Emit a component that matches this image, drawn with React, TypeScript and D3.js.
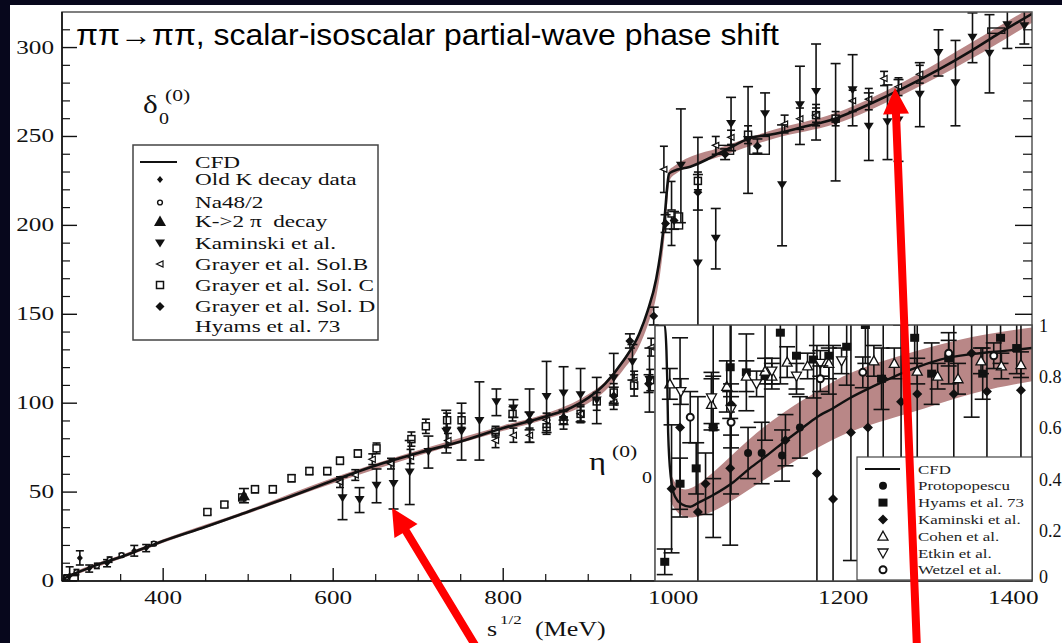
import React from 'react';
import * as d3 from 'd3';

const W = 1062;
const H = 643;

// CFD parametrisation of the scalar-isoscalar phase shift δ0(0) (degrees)
const cfdEnergy = [280, 290, 300, 325, 350, 375, 400, 450, 500, 550, 600, 650, 700, 750, 800, 850, 880, 900, 920, 940, 960, 970, 980, 986, 990, 993, 995, 1000, 1020, 1060, 1090, 1120, 1150, 1190, 1230, 1270, 1310, 1350, 1380, 1422];
const cfdPhase = [0.5, 3, 5, 9.5, 13.5, 18, 22.5, 30.5, 39, 47.5, 56.5, 65, 72, 78.5, 86, 92.5, 97.5, 103, 111, 123, 139, 152, 170, 188, 205, 222, 229, 230.5, 233, 242, 249, 251.5, 255, 260, 268, 277, 287, 298, 307, 319];

// uncertainty band of the phase shift
const bandEnergy = [280, 300, 350, 400, 500, 600, 700, 800, 850, 900, 920, 940, 960, 970, 980, 986, 990, 993, 995, 1000, 1060, 1120, 1190, 1270, 1350, 1422];
const bandLow = [0, 4, 12.5, 21.5, 38, 55, 70.5, 84.5, 91, 100, 107, 118, 132, 144, 160, 178, 195, 213, 224, 228, 239.5, 249, 257, 273.5, 293.5, 314];
const bandHigh = [1, 6, 14.5, 23.5, 40, 58, 73.5, 87.5, 94, 105, 112, 124, 140, 153, 171, 189, 206, 224, 231, 233, 244.5, 254, 263, 280.5, 302.5, 323];

// inelasticity η0(0) from CFD
const etaEnergy = [978.5, 990, 992, 993, 994, 997, 1002, 1010, 1020, 1029, 1047, 1071, 1090, 1110, 1129, 1149, 1169, 1188, 1208, 1235, 1275, 1314, 1353, 1393, 1422];
const etaValue = [1, 1, 0.9, 0.78, 0.58, 0.41, 0.33, 0.3, 0.29, 0.305, 0.336, 0.387, 0.44, 0.49, 0.54, 0.59, 0.64, 0.675, 0.715, 0.76, 0.82, 0.865, 0.887, 0.9, 0.91];
const etaBandEnergy = [997, 1005, 1020, 1050, 1090, 1129, 1169, 1208, 1275, 1353, 1422];
const etaBandLow = [0.31, 0.26, 0.24, 0.27, 0.36, 0.44, 0.52, 0.59, 0.65, 0.74, 0.78];
const etaBandHigh = [0.42, 0.36, 0.35, 0.43, 0.56, 0.66, 0.74, 0.82, 0.89, 0.96, 0.99];

// phase-shift data: [energy MeV, δ deg, error]
const oldKDecay = [[290, 3, 5], [302, 13, 4], [313, 7, 2], [334, 10, 2], [366, 17, 3], [380, 18.5, 2]];
const na48 = [[286, 2, 1.5], [298, 5, 1.5], [322, 8.5, 1.5], [337, 12, 1.5], [351, 14.5, 1], [389, 21, 1]];
const k2piDecay = [[495, 48, 4]];
const kaminski = [
  [611, 46.5, 12], [631, 45.5, 7], [651, 53.5, 9.5], [671, 54.5, 14], [690, 61, 18], [712, 72.5, 9], [733, 84, 12], [751, 84, 16],
  [772, 90, 22], [792, 100.5, 7.5], [812, 97, 5], [831, 93, 15], [851, 103.5, 20], [871, 105.5, 15], [891, 104.5, 15], [910, 101.5, 13],
  [930, 114, 14], [952, 123, 10], [972, 113, 18], [1009, 233.5, 32], [1029, 178.5, 71], [1050, 192.5, 17], [1068, 257, 15], [1088, 248, 30],
  [1108, 262.5, 12], [1128, 222.5, 34], [1149, 267.5, 22], [1168, 275, 27], [1191, 258, 33], [1211, 276, 20], [1230, 255.5, 19],
  [1252, 258, 21], [1265, 259, 23], [1290, 273.5, 18], [1312, 297, 13], [1332, 280, 24], [1352, 305.5, 14], [1372, 296.5, 22],
  [1393, 312.5, 13], [1413, 312, 10],
];
const grayerB = [
  [608, 55.6, 3], [626, 59.6, 3], [646, 68.5, 3], [668, 66, 3], [691, 70, 4], [735, 79, 4], [791, 79, 4], [812, 82, 4], [831, 82, 4],
  [851, 90.4, 4], [891, 94, 4], [930, 100.5, 4], [954, 113, 5], [974, 131.5, 5], [989, 231.5, 13], [1050, 245, 5], [1068, 249.5, 4],
  [1131, 257, 5], [1149, 260, 6], [1168, 262, 6], [1211, 270, 6], [1230, 271, 6], [1248, 282.6, 4], [1265, 278, 5], [1290, 285, 5],
];
const grayerC = [
  [452, 38.8, 1.5], [472, 43, 1.5], [493, 47, 1.5], [508, 51.6, 2], [529, 51.6, 2], [551, 57.8, 2], [572, 61.8, 2], [593, 61.8, 2],
  [608, 67.6, 2], [629, 71.7, 2], [651, 74.6, 3], [692, 79.8, 4], [709, 87, 4], [734, 90.4, 4], [751, 90.4, 4], [791, 84, 3],
  [811, 94, 4], [851, 86.5, 4], [871, 90.4, 5], [891, 94, 5], [910, 101, 5], [930, 106, 5], [954, 110, 6], [973, 113, 6],
  [998, 206.7, 18], [1029, 225, 5], [1088, 251, 5], [1168, 262, 4], [1191, 260, 4],
];
const grayerD = [
  [831, 90, 5], [871, 92, 4], [930, 104, 5], [949, 135, 4], [971, 111, 5], [977, 149, 5], [991, 201, 5], [1001, 202.8, 5],
  [1029, 218.6, 10], [1061, 240, 3], [1099, 244.6, 4],
];
// Hyams et al. 73: [E from, E to, δ from, δ to]
const hyams73 = [[283, 300, 0, 3], [990, 1011, 198, 207], [1050, 1071, 240, 245], [1090, 1113, 240, 250], [1370, 1390, 308, 311]];

// inelasticity data: [energy MeV, η, error]
const etaProtopopescu = [[1088, 0.5, 0.1], [1104, 0.5, 0.12], [1128, 0.49, 0.1], [1149, 0.6, 0.12]];
const etaHyams = [
  [990, 0.075, 0.05], [1008, 0.38, 0.1], [1027, 0.44, 0.1], [1047, 0.6, 0.2], [1067, 0.835, 0.2], [1086, 0.815, 0.15], [1108, 0.8, 0.25],
  [1126, 0.97, 0.2], [1145, 0.88, 0.15], [1165, 0.865, 0.15], [1183, 0.88, 0.15], [1204, 0.915, 0.15], [1226, 1.0, 0.15],
  [1245, 0.79, 0.12], [1284, 0.95, 0.1], [1304, 0.81, 0.12], [1324, 0.87, 0.1], [1364, 0.81, 0.1], [1385, 0.95, 0.1], [1404, 0.91, 0.1],
];
const etaKaminski = [
  [998, 0.36, 0.25], [1008, 0.6, 0.35], [1029, 0.27, 0.45], [1038, 0.38, 0.12], [1047, 0.6, 0.43], [1067, 0.44, 0.3], [1068, 0.69, 0.35],
  [1132, 0.55, 0.1], [1169, 0.42, 0.5], [1188, 0.32, 0.6], [1209, 0.58, 0.5], [1229, 0.6, 0.45], [1247, 0.79, 0.35], [1268, 0.7, 0.3],
  [1287, 0.73, 0.6], [1330, 0.73, 0.3], [1351, 0.89, 0.25], [1369, 0.74, 0.5], [1409, 0.745, 0.6],
];
const etaCohen = [
  [996, 0.77, 0.06], [1045, 0.69, 0.1], [1063, 0.76, 0.1], [1086, 0.8, 0.06], [1108, 0.82, 0.05], [1116, 0.8, 0.05], [1134, 0.855, 0.06],
  [1158, 0.84, 0.05], [1183, 0.85, 0.06], [1236, 0.86, 0.06], [1260, 0.85, 0.06], [1287, 0.82, 0.05], [1311, 0.8, 0.05],
  [1335, 0.79, 0.06], [1362, 0.86, 0.05], [1386, 0.84, 0.05], [1409, 0.845, 0.05],
];
const etaEtkin = [[1009, 0.74, 0.05], [1045, 0.715, 0.1], [1068, 0.67, 0.1], [1098, 0.77, 0.05], [1116, 0.82, 0.05], [1145, 0.8, 0.05], [1173, 0.85, 0.05], [1198, 0.86, 0.05]];
const etaWetzel = [[1020, 0.64, 0.1], [1068, 0.62, 0.1], [1173, 0.79, 0.05], [1223, 0.815, 0.06], [1324, 0.89, 0.05], [1377, 0.88, 0.05]];

// axis ticks
const xMajorTicks = [400, 600, 800, 1000, 1200, 1400];
const xMinorTicks = [300, 350, 450, 500, 550, 650, 700, 750, 850, 900, 950, 1050, 1100, 1150, 1250, 1300, 1350];
const yMajorTicks = [0, 50, 100, 150, 200, 250, 300];
const yMinorTicks = d3.range(10, 320, 10).filter((v) => v % 50 !== 0);
const etaTickLabels = ['0', '0.2', '0.4', '0.6', '0.8', '1'];
const etaTicks = [0, 0.2, 0.4, 0.6, 0.8, 1];

const mainLegend = [
  { label: 'CFD', kind: 'line' },
  { label: 'Old K decay data', kind: 'oldK' },
  { label: 'Na48/2', kind: 'na48' },
  { label: 'K->2\u00a0\u03c0\u00a0\u00a0decay', kind: 'k2pi' },
  { label: 'Kaminski et al.', kind: 'kam' },
  { label: 'Grayer et al. Sol.B', kind: 'solB' },
  { label: 'Grayer et al. Sol. C', kind: 'solC' },
  { label: 'Grayer et al. Sol. D', kind: 'solD' },
  { label: 'Hyams et al. 73', kind: 'none' },
];
const insetLegend = [
  { label: 'CFD', kind: 'line' },
  { label: 'Protopopescu', kind: 'proto' },
  { label: 'Hyams et al. 73', kind: 'hyams' },
  { label: 'Kaminski et al.', kind: 'kamI' },
  { label: 'Cohen et al.', kind: 'cohen' },
  { label: 'Etkin et al.', kind: 'etkin' },
  { label: 'Wetzel et al.', kind: 'wetzel' },
];

const SERIF = '"Liberation Serif", "Times New Roman", serif';
const SANS = '"Liberation Sans", Arial, sans-serif';
const INK = '#111';
const BAND = '#b98787';

// layout of the frames
const plotL = 62, plotR = 1032, plotT = 12, plotB = 581;
const insetT = 325;
const insetEStart = 978.5;

const x = d3.scaleLinear().domain([281, 1422]).range([plotL, plotR]);
const y = d3.scaleLinear().domain([0, 320]).range([plotB, plotT]);
const yi = d3.scaleLinear().domain([0, 1]).range([plotB, insetT]);

function SText({ x: tx, y: ty, size, sx = 1.4, anchor = 'start', children, fill = INK, family = SERIF }: any) {
  return (
    <text transform={`translate(${tx},${ty}) scale(${sx},1)`} fontSize={size} fontFamily={family} textAnchor={anchor} fill={fill}>
      {children}
    </text>
  );
}

function Marker({ kind, cx, cy }: { kind: string; cx: number; cy: number }) {
  switch (kind) {
    case 'oldK':
      return <path d={`M${cx},${cy - 3.5}L${cx + 3},${cy}L${cx},${cy + 3.5}L${cx - 3},${cy}Z`} fill={INK} />;
    case 'na48':
      return <circle cx={cx} cy={cy} r={2.4} fill="#fff" stroke={INK} strokeWidth={1.4} />;
    case 'k2pi':
      return <path d={`M${cx},${cy - 6}L${cx + 6},${cy + 4.5}L${cx - 6},${cy + 4.5}Z`} fill={INK} />;
    case 'kam':
      return <path d={`M${cx - 5},${cy - 4}L${cx + 5},${cy - 4}L${cx},${cy + 4}Z`} fill={INK} />;
    case 'solB':
      return <path d={`M${cx - 3.5},${cy}L${cx + 3},${cy - 3}L${cx + 3},${cy + 3}Z`} fill="#fff" stroke={INK} strokeWidth={1.2} />;
    case 'solC':
      return <rect x={cx - 3.5} y={cy - 3.5} width={7} height={7} fill="#fff" stroke={INK} strokeWidth={1.5} />;
    case 'solD':
      return <path d={`M${cx},${cy - 4.5}L${cx + 4.5},${cy}L${cx},${cy + 4.5}L${cx - 4.5},${cy}Z`} fill={INK} />;
    case 'proto':
      return <circle cx={cx} cy={cy} r={4} fill={INK} />;
    case 'hyams':
      return <rect x={cx - 4.5} y={cy - 4} width={9} height={8} fill={INK} />;
    case 'kamI':
      return <path d={`M${cx},${cy - 5}L${cx + 5},${cy}L${cx},${cy + 5}L${cx - 5},${cy}Z`} fill={INK} />;
    case 'cohen':
      return <path d={`M${cx},${cy - 5}L${cx + 5},${cy + 4}L${cx - 5},${cy + 4}Z`} fill="#fff" stroke={INK} strokeWidth={1.3} />;
    case 'etkin':
      return <path d={`M${cx - 5},${cy - 4}L${cx + 5},${cy - 4}L${cx},${cy + 5}Z`} fill="#fff" stroke={INK} strokeWidth={1.3} />;
    case 'wetzel':
      return <circle cx={cx} cy={cy} r={3.5} fill="#fff" stroke={INK} strokeWidth={2} />;
    default:
      return null;
  }
}

function Series({ data, kind, ys, cap }: { data: number[][]; kind: string; ys: (v: number) => number; cap: number }) {
  return (
    <g>
      {data.map(([e, v, err], i) => {
        const cx = x(e);
        const y0 = ys(v - err);
        const y1 = ys(v + err);
        return (
          <g key={i}>
            <line x1={cx} x2={cx} y1={y0} y2={y1} stroke={INK} strokeWidth={1.6} />
            <line x1={cx - cap / 2} x2={cx + cap / 2} y1={y0} y2={y0} stroke={INK} strokeWidth={1.6} />
            <line x1={cx - cap / 2} x2={cx + cap / 2} y1={y1} y2={y1} stroke={INK} strokeWidth={1.6} />
            <Marker kind={kind} cx={cx} cy={ys(v)} />
          </g>
        );
      })}
    </g>
  );
}

function arrowPoints(tipX: number, tipY: number, tailX: number, tailY: number, shaftW: number, headL: number, headW: number) {
  const dx = tailX - tipX;
  const dy = tailY - tipY;
  const len = Math.hypot(dx, dy);
  const ux = dx / len, uy = dy / len;
  const nx = -uy, ny = ux;
  const bx = tipX + ux * headL, by = tipY + uy * headL;
  const pts = [
    [tipX, tipY],
    [bx + (nx * headW) / 2, by + (ny * headW) / 2],
    [bx + (nx * shaftW) / 2, by + (ny * shaftW) / 2],
    [tailX + (nx * shaftW) / 2, tailY + (ny * shaftW) / 2],
    [tailX - (nx * shaftW) / 2, tailY - (ny * shaftW) / 2],
    [bx - (nx * shaftW) / 2, by - (ny * shaftW) / 2],
    [bx - (nx * headW) / 2, by - (ny * headW) / 2],
  ];
  return pts.map((p) => p.join(',')).join(' ');
}

export default function App() {
  const cfdPts = cfdEnergy.map((e, i) => [e, cfdPhase[i]] as [number, number]);
  const line = d3.line<[number, number]>().x((d) => x(d[0])).y((d) => y(d[1])).curve(d3.curveMonotoneX);
  const band = d3
    .area<number>()
    .x((_, i) => x(bandEnergy[i]))
    .y0((_, i) => y(bandLow[i]))
    .y1((_, i) => y(bandHigh[i]))
    .curve(d3.curveMonotoneX);

  const etaPts = etaEnergy.map((e, i) => [e, etaValue[i]] as [number, number]);
  const etaLine = d3.line<[number, number]>().x((d) => x(d[0])).y((d) => yi(d[1])).curve(d3.curveMonotoneX);
  const etaBand = d3
    .area<number>()
    .x((_, i) => x(etaBandEnergy[i]))
    .y0((_, i) => yi(etaBandLow[i]))
    .y1((_, i) => yi(etaBandHigh[i]))
    .curve(d3.curveBasis);

  const insetL = x(insetEStart);
  const legRows = [162, 179.5, 202.5, 221.5, 243.5, 264, 285, 306.5, 326.5];

  return (
    <svg width={W} height={H} style={{ position: 'absolute', left: 0, top: 0, display: 'block' }}>
      <defs>
        <clipPath id="mainClip">
          <rect x={plotL} y={plotT} width={plotR - plotL} height={plotB - plotT} />
        </clipPath>
        <clipPath id="insetClip">
          <rect x={insetL} y={insetT} width={plotR - insetL} height={plotB - insetT} />
        </clipPath>
      </defs>
      <rect x={0} y={0} width={W} height={H} fill="#fff" />

      {/* phase-shift panel */}
      <g clipPath="url(#mainClip)">
        <path d={band(bandEnergy) || ''} fill={BAND} />
        {hyams73.map(([e0, e1, d0, d1], i) => (
          <rect key={i} x={x(e0)} y={y(d1)} width={x(e1) - x(e0)} height={y(d0) - y(d1)} fill="none" stroke={INK} strokeWidth={1.4} />
        ))}
        <Series data={grayerC} kind="solC" ys={y} cap={8} />
        <Series data={grayerB} kind="solB" ys={y} cap={8} />
        <Series data={kaminski} kind="kam" ys={y} cap={10} />
        <Series data={grayerD} kind="solD" ys={y} cap={10} />
        <Series data={oldKDecay} kind="oldK" ys={y} cap={8} />
        <Series data={na48} kind="na48" ys={y} cap={6} />
        <Series data={k2piDecay} kind="k2pi" ys={y} cap={10} />
        <path d={line(cfdPts) || ''} fill="none" stroke={INK} strokeWidth={2.6} />
      </g>

      {/* axis frame and ticks */}
      <rect x={plotL} y={plotT} width={plotR - plotL} height={plotB - plotT} fill="none" stroke="#555" strokeWidth={1.5} />
      <line x1={plotL} x2={plotL} y1={plotT} y2={plotB} stroke={INK} strokeWidth={1.6} />
      <line x1={plotL} x2={plotR} y1={plotB} y2={plotB} stroke={INK} strokeWidth={1.6} />
      {yMajorTicks.map((v) => (
        <g key={`ym${v}`}>
          <line x1={plotL} x2={plotL + 15} y1={y(v)} y2={y(v)} stroke={INK} strokeWidth={1.4} />
          <line x1={plotR} x2={plotR - 17} y1={y(v)} y2={y(v)} stroke={INK} strokeWidth={1.4} />
          <SText x={54} y={y(v) + 6} size={18} anchor="end">
            {v}
          </SText>
        </g>
      ))}
      {yMinorTicks.map((v) => (
        <g key={`yn${v}`}>
          <line x1={plotL} x2={plotL + 8} y1={y(v)} y2={y(v)} stroke={INK} strokeWidth={1.2} />
          <line x1={plotR} x2={plotR - 9} y1={y(v)} y2={y(v)} stroke={INK} strokeWidth={1.2} />
        </g>
      ))}
      {xMajorTicks.map((v) => (
        <g key={`xm${v}`}>
          <line x1={x(v)} x2={x(v)} y1={plotB} y2={plotB - 13} stroke={INK} strokeWidth={1.4} />
          <SText x={x(v)} y={604} size={18} anchor="middle">
            {v}
          </SText>
        </g>
      ))}
      {xMinorTicks.map((v) => (
        <line key={`xn${v}`} x1={x(v)} x2={x(v)} y1={plotB} y2={plotB - 7} stroke={INK} strokeWidth={1.2} />
      ))}

      {/* inelasticity inset */}
      <rect x={insetL} y={insetT} width={plotR - insetL} height={plotB - insetT} fill="#fff" />
      <g clipPath="url(#insetClip)">
        <path d={etaBand(etaBandEnergy) || ''} fill={BAND} />
        <Series data={etaKaminski} kind="kamI" ys={yi} cap={16} />
        <Series data={etaHyams} kind="hyams" ys={yi} cap={16} />
        <Series data={etaProtopopescu} kind="proto" ys={yi} cap={16} />
        <Series data={etaCohen} kind="cohen" ys={yi} cap={16} />
        <Series data={etaEtkin} kind="etkin" ys={yi} cap={16} />
        <Series data={etaWetzel} kind="wetzel" ys={yi} cap={16} />
        <path d={etaLine(etaPts) || ''} fill="none" stroke={INK} strokeWidth={2.4} />
      </g>
      <rect x={insetL} y={insetT} width={plotR - insetL} height={plotB - insetT} fill="none" stroke="#444" strokeWidth={1.5} />
      {etaTicks.map((v, i) => (
        <SText key={`et${v}`} x={1039} y={yi(v) + (v === 0 ? 2 : 7)} size={18} sx={1.0} anchor="start">
          {etaTickLabels[i]}
        </SText>
      ))}

      {/* inset legend */}
      <rect x={857} y={457} width={175} height={123} fill="#fff" stroke="#444" strokeWidth={1.2} />
      {insetLegend.map((d, i) => {
        const cy = 469 + i * 16.8;
        return (
          <g key={d.label}>
            {d.kind === 'line' ? (
              <line x1={865} x2={900} y1={cy} y2={cy} stroke={INK} strokeWidth={2} />
            ) : (
              <Marker kind={d.kind} cx={883} cy={cy} />
            )}
            <SText x={918} y={cy + 4.5} size={13} sx={1.3} fill="#222">
              {d.label}
            </SText>
          </g>
        );
      })}

      {/* main legend */}
      <rect x={133} y={145} width={245} height={195} fill="#fff" stroke="#444" strokeWidth={1.5} />
      {mainLegend.map((d, i) => {
        const cy = legRows[i];
        return (
          <g key={d.label}>
            {d.kind === 'line' ? (
              <line x1={140} x2={177} y1={cy} y2={cy} stroke={INK} strokeWidth={2} />
            ) : (
              <Marker kind={d.kind} cx={160} cy={cy} />
            )}
            <SText x={195} y={cy + 5.5} size={16} sx={1.45}>
              {d.label}
            </SText>
          </g>
        );
      })}

      {/* axis titles */}
      <SText x={143} y={113} size={25} sx={1.25}>
        δ
      </SText>
      <SText x={159} y={124} size={16} sx={1.25}>
        0
      </SText>
      <SText x={165} y={101} size={16} sx={1.35}>
        (0)
      </SText>
      <SText x={589} y={470} size={26} sx={1.25}>
        η
      </SText>
      <SText x={612} y={457} size={16} sx={1.35}>
        (0)
      </SText>
      <SText x={642} y={483} size={16} sx={1.25}>
        0
      </SText>
      <SText x={487} y={636} size={20} sx={1.3}>
        s
      </SText>
      <SText x={500} y={624} size={13} sx={1.3}>
        1/2
      </SText>
      <SText x={535} y={636} size={20} sx={1.3}>
        (MeV)
      </SText>

      <SText x={76} y={45} size={29} sx={1.1} family={SANS} fill="#000">
        ππ→ππ, scalar-isoscalar partial-wave phase shift
      </SText>

      {/* slide background border */}
      <rect x={0} y={0} width={W} height={5} fill="#07071c" />
      <rect x={0} y={0} width={10} height={H} fill="#07071c" />

      {/* annotation arrows */}
      <polygon points={arrowPoints(392, 508, 478, 650, 8, 27, 27)} fill="#ff0000" />
      <polygon points={arrowPoints(895, 88, 917, 650, 8, 26, 26)} fill="#ff0000" />
    </svg>
  );
}
